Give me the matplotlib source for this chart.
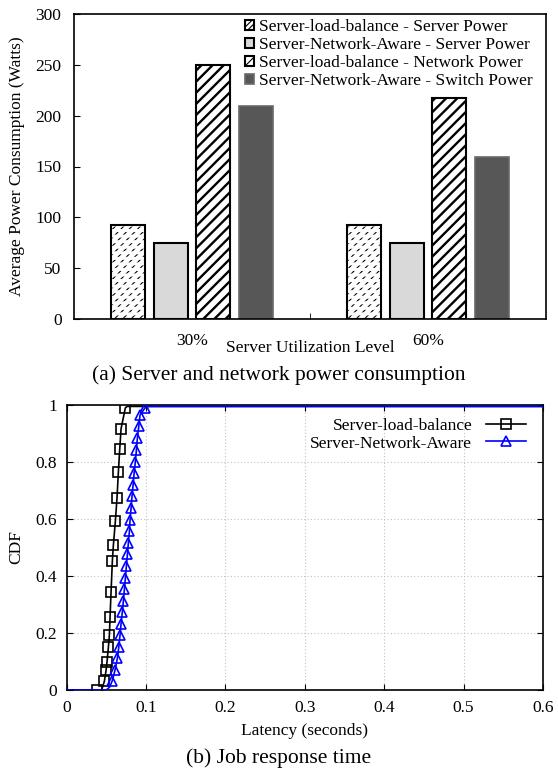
import matplotlib
matplotlib.use("Agg")
import matplotlib.pyplot as plt
import numpy as np

plt.rcParams['font.family'] = ['Liberation Serif', 'DejaVu Serif']
plt.rcParams['mathtext.fontset'] = 'stix'

# ---- data: power consumption ----
groups = ['30%', '60%']
series_names = ['Server-load-balance - Server Power',
                'Server-Network-Aware - Server Power',
                'Server-load-balance - Network Power',
                'Server-Network-Aware - Switch Power']
slb_server = [92, 92]
sna_server = [75, 75]
slb_network = [250, 217]
sna_switch = [210, 159]

# ---- data: CDF of latency ----
slb_lat = [0.0, 0.0378, 0.044, 0.0475, 0.0496, 0.0508, 0.0525, 0.0538, 0.0546, 0.0559,
           0.0575, 0.0588, 0.0613, 0.0634, 0.0651, 0.0668, 0.0685, 0.0739, 0.076, 0.6]
slb_cdf = [0.0, 0.0, 0.0, 0.031, 0.069, 0.099, 0.15, 0.194, 0.255, 0.345,
           0.452, 0.508, 0.592, 0.675, 0.765, 0.845, 0.917, 0.99, 0.995, 0.995]
sna_lat = [0.0, 0.05, 0.054, 0.0575, 0.0609, 0.0638, 0.0656, 0.0672, 0.0685, 0.0701,
           0.0714, 0.0727, 0.0739, 0.0752, 0.0765, 0.0777, 0.079, 0.0798, 0.0811,
           0.0823, 0.0836, 0.0849, 0.0865, 0.0878, 0.089, 0.0908, 0.0924, 0.0987,
           0.102, 0.6]
sna_cdf = [0.0, 0.0, 0.01, 0.033, 0.070, 0.111, 0.15, 0.193, 0.233, 0.274,
           0.313, 0.353, 0.393, 0.436, 0.476, 0.517, 0.557, 0.596, 0.638,
           0.68, 0.719, 0.76, 0.801, 0.842, 0.883, 0.925, 0.965, 0.99,
           0.995, 0.995]
slb_marks = [1] + list(range(3, 18))
sna_marks = list(range(3, 28))

FS = 12.5

fig = plt.figure(figsize=(5.58, 7.70), dpi=100)

# ---------------- top: bar chart ----------------
ax1 = fig.add_axes([74/558, 1-319/770, 472/558, 305/770])
x = np.arange(len(groups))
w = 0.145
pitch = 0.181
vals = [slb_server, sna_server, slb_network, sna_switch]

# series 1: short slanted dashes (diagonal hatch broken by white horizontal rows)
plt.rcParams['hatch.linewidth'] = 0.8
ax1.bar(x - 1.5 * pitch, vals[0], width=w, facecolor='white', edgecolor='black',
        hatch='////', linewidth=0, zorder=2)
plt.rcParams['hatch.linewidth'] = 2.2
ax1.bar(x - 1.5 * pitch, vals[0], width=w, facecolor='none', edgecolor='white',
        hatch='---', linewidth=0, zorder=2.1)
plt.rcParams['hatch.linewidth'] = 0.8
b1 = ax1.bar(x - 1.5 * pitch, vals[0], width=w, facecolor='none', edgecolor='black',
             linewidth=1.5, zorder=2.2)
# series 2
b2 = ax1.bar(x - 0.5 * pitch, vals[1], width=w, facecolor='#d9d9d9', edgecolor='black',
             linewidth=1.5, zorder=2)
# series 3: bold diagonal stripes
plt.rcParams['hatch.linewidth'] = 1.7
b3 = ax1.bar(x + 0.5 * pitch, vals[2], width=w, facecolor='white', edgecolor='black',
             hatch='///', linewidth=1.5, zorder=2)
# series 4
b4 = ax1.bar(x + 1.5 * pitch, vals[3], width=w, facecolor='#575757', edgecolor='#6a6a6a',
             linewidth=1.2, zorder=2)
plt.rcParams['hatch.linewidth'] = 0.8
legend_proxy1 = ax1.bar([0], [0], width=0, facecolor='white', edgecolor='black',
                        hatch='//////', linewidth=1.5)

ax1.set_xlim(-0.5, 1.5)
ax1.set_ylim(0, 300)
ax1.set_yticks([0, 50, 100, 150, 200, 250, 300])
ax1.set_xticks(x)
ax1.set_xticklabels(groups, fontsize=FS)
ax1.set_xticks([0.5], minor=True)
ax1.tick_params(axis='x', which='major', length=0, pad=10)
ax1.tick_params(axis='x', which='minor', length=4, direction='in')
ax1.tick_params(axis='y', direction='in', length=4, labelsize=FS, pad=9)
for s in ax1.spines.values():
    s.set_linewidth(1.2)
ax1.set_ylabel('Average Power Consumption (Watts)', fontsize=FS)
ax1.yaxis.set_label_coords(-0.1035, 0.5)
ax1.set_xlabel('Server Utilization Level', fontsize=FS)
ax1.xaxis.set_label_coords(0.5, -0.07)
ax1.legend([legend_proxy1, b2, b3, b4], series_names,
           loc='upper left', bbox_to_anchor=(0.34, 1.018), frameon=False,
           fontsize=FS, handlelength=0.55, handleheight=0.55, handletextpad=0.25,
           labelspacing=0.12, borderaxespad=0.2)
fig.text(0.5, 1-375/770, '(a) Server and network power consumption',
         ha='center', va='center', fontsize=15.5)

# ---------------- bottom: CDF ----------------
ax2 = fig.add_axes([66.7/558, 1-690/770, 476.3/558, 285/770])
ax2.plot(slb_lat, slb_cdf, color='black', lw=1.2, marker='s', markersize=6.5,
         markerfacecolor='none', markeredgecolor='black', markeredgewidth=1.2,
         markevery=slb_marks, label='Server-load-balance', zorder=3)
ax2.plot(sna_lat, sna_cdf, color='blue', lw=1.2, marker='^', markersize=6.5,
         markerfacecolor='none', markeredgecolor='blue', markeredgewidth=1.2,
         markevery=sna_marks, label='Server-Network-Aware', zorder=3)
ax2.set_xlim(0, 0.6)
ax2.set_ylim(0, 1)
ax2.set_xticks([0, 0.1, 0.2, 0.3, 0.4, 0.5, 0.6])
ax2.set_xticklabels(['0', '0.1', '0.2', '0.3', '0.4', '0.5', '0.6'])
ax2.set_yticks([0, 0.2, 0.4, 0.6, 0.8, 1.0])
ax2.set_yticklabels(['0', '0.2', '0.4', '0.6', '0.8', '1'])
ax2.tick_params(direction='in', length=4, top=True, right=True, labelsize=FS, pad=7)
ax2.grid(True, color='#c0c0c0', linestyle=(0, (1, 2)), linewidth=0.8)
for s in ax2.spines.values():
    s.set_linewidth(1.2)
ax2.set_xlabel('Latency (seconds)', fontsize=FS, labelpad=5)
ax2.set_ylabel('CDF', fontsize=FS)
ax2.yaxis.set_label_coords(-0.09, 0.5)
ax2.legend(loc='upper right', bbox_to_anchor=(0.997, 1.008), frameon=False,
           fontsize=FS, markerfirst=False, handlelength=2.3, labelspacing=0.05,
           handletextpad=0.8)
fig.text(0.5, 1-758/770, '(b) Job response time', ha='center', va='center', fontsize=15.5)

fig.savefig('out.png', dpi=100)
